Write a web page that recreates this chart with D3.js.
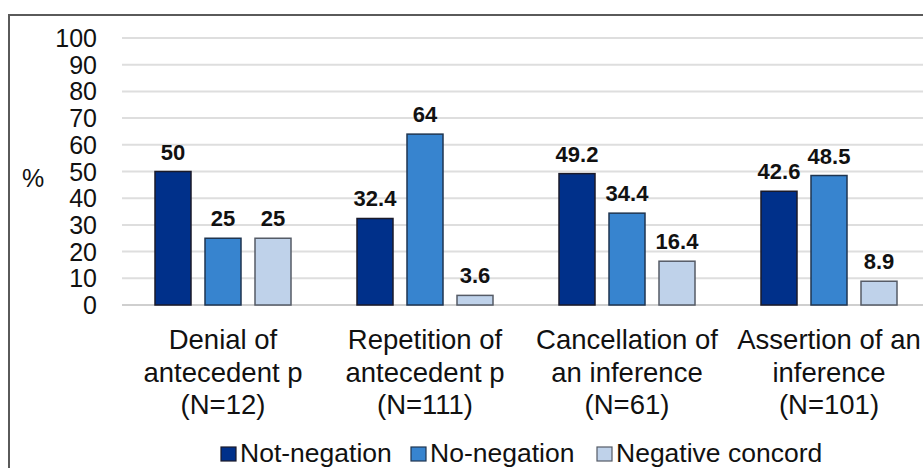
<!DOCTYPE html>
<meta charset="utf-8">
<style>
body { margin: 0; background: #fff; font-family: "Liberation Sans", Arial, sans-serif; }
</style>
<body>
<div id="chart"></div>
<script src="https://cdn.jsdelivr.net/npm/d3@7"></script>
<script>

var categories = [
  ["Denial of", "antecedent p", "(N=12)"],
  ["Repetition of", "antecedent p", "(N=111)"],
  ["Cancellation of", "an inference", "(N=61)"],
  ["Assertion of an", "inference", "(N=101)"]
];
var series = ["Not-negation", "No-negation", "Negative concord"];
var notNegation = [50, 32.4, 49.2, 42.6];
var noNegation = [25, 64, 34.4, 48.5];
var negConcord = [25, 3.6, 16.4, 8.9];
var yTicks = [0, 10, 20, 30, 40, 50, 60, 70, 80, 90, 100];

var colors = ["#00308a", "#3784cf", "#bfd2ea"];
var strokes = ["#1a1a2a", "#1f3550", "#555b66"];

var width = 923, height = 468;
var values = [notNegation, noNegation, negConcord];

var svg = d3.select("#chart").append("svg")
  .attr("width", width).attr("height", height);

// outer frame (cropped on right and bottom)
svg.append("rect")
  .attr("x", 9).attr("y", 15)
  .attr("width", 930).attr("height", 470)
  .attr("fill", "none").attr("stroke", "#5a5a5a").attr("stroke-width", 2);

var y = d3.scaleLinear().domain([0, 100]).range([305, 38]);
var x0 = d3.scaleBand().domain(d3.range(categories.length)).range([122, 930]);
var x1 = d3.scaleBand().domain(d3.range(series.length)).range([33, 169]).paddingInner(0.28);

// gridlines
svg.append("g").selectAll("line").data(yTicks).enter().append("line")
  .attr("x1", 122).attr("x2", 930)
  .attr("y1", function(d){ return y(d); }).attr("y2", function(d){ return y(d); })
  .attr("stroke", function(d){ return d === 0 ? "#cfcfcf" : "#dedede"; })
  .attr("stroke-width", 2);

// y tick labels
svg.append("g").selectAll("text").data(yTicks).enter().append("text")
  .attr("x", 97).attr("y", function(d){ return y(d); })
  .attr("dy", "0.36em")
  .attr("text-anchor", "end")
  .style("font-size", "25px").attr("fill", "#111")
  .text(function(d){ return d; });

svg.append("text").attr("x", 22).attr("y", 178).attr("dy", "0.36em")
  .style("font-size", "25px").attr("fill", "#111").text("%");

// bars
var groups = svg.append("g").selectAll("g").data(categories).enter().append("g")
  .attr("transform", function(d, i){ return "translate(" + x0(i) + ",0)"; });

groups.each(function(c, ci) {
  var g = d3.select(this);
  series.forEach(function(s, si) {
    var v = values[si][ci];
    g.append("rect")
      .attr("x", x1(si)).attr("width", x1.bandwidth())
      .attr("y", y(v)).attr("height", y(0) - y(v))
      .attr("fill", colors[si]).attr("stroke", strokes[si]).attr("stroke-width", 1.5);
    g.append("text")
      .attr("x", x1(si) + x1.bandwidth() / 2).attr("y", y(v) - 12)
      .attr("text-anchor", "middle")
      .style("font-size", "22px").style("font-weight", "bold").attr("fill", "#111")
      .text(v);
  });
  var t = g.append("text").attr("text-anchor", "middle")
    .style("font-size", "27.5px").attr("fill", "#111");
  c.forEach(function(line, li) {
    t.append("tspan").attr("x", x0.bandwidth() / 2).attr("y", 349 + li * 32.5).text(line);
  });
});

// legend
var legX = [221, 411, 597];
var leg = svg.append("g").selectAll("g").data(series).enter().append("g")
  .attr("transform", function(d, i){ return "translate(" + legX[i] + ",0)"; });
leg.append("rect").attr("x", 0).attr("y", 447).attr("width", 15).attr("height", 14)
  .attr("fill", function(d, i){ return colors[i]; })
  .attr("stroke", function(d, i){ return strokes[i]; }).attr("stroke-width", 1.2);
leg.append("text").attr("x", 19).attr("y", 462)
  .style("font-size", "26.5px").attr("fill", "#111")
  .text(function(d){ return d; });

</script>
